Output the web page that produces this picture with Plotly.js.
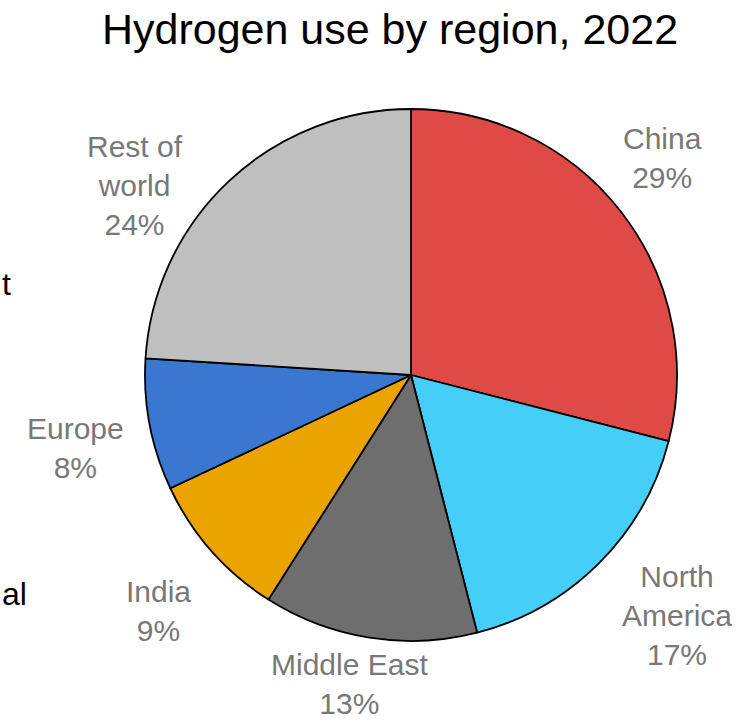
<!DOCTYPE html>
<html>
<head>
<meta charset="utf-8">
<script src="https://cdn.plot.ly/plotly-3.0.1.min.js"></script>
<style>
html,body{margin:0;padding:0;background:#fff;}
#chart{width:754px;height:720px;}
</style>
</head>
<body>
<div id="chart"></div>
<script>
// Data
const regions = ["China", "North America", "Middle East", "India", "Europe", "Rest of world"];
const labelText = ["China", "North<br>America", "Middle East", "India", "Europe", "Rest of<br>world"];
const shares = [29, 17, 13, 9, 8, 24];
const colors = ["#E04A46", "#45CEF7", "#6E6E6E", "#EBA300", "#3A77D1", "#BFBFBF"];

// Label placement (pixel centres in the 754x720 canvas)
const W = 754, H = 720;
const labelPx = [[662, 158], [677, 615], [349, 684], [158, 611], [75, 448], [135, 186]];

const cx = 411, cy = 375, R = 266;

const trace = {
  type: "pie",
  labels: regions,
  values: shares,
  sort: false,
  direction: "clockwise",
  rotation: 0,
  marker: {colors: colors, line: {color: "#000000", width: 1.8}},
  textinfo: "none",
  hoverinfo: "label+percent",
  showlegend: false,
  domain: {x: [(cx - R) / W, (cx + R) / W], y: [(H - cy - R) / H, (H - cy + R) / H]}
};

const labelFont = {family: "Liberation Sans, Arial, sans-serif", size: 30, color: "#787878"};
const annotations = regions.map((r, i) => ({
  text: labelText[i] + "<br>" + shares[i] + "%",
  x: labelPx[i][0] / W,
  y: 1 - labelPx[i][1] / H,
  xref: "paper", yref: "paper",
  xanchor: "center", yanchor: "middle",
  showarrow: false,
  align: "center",
  font: labelFont
}));

// fragments of neighbouring text cut off at the left edge
annotations.push({text: "t", x: 0, y: 1 - 284 / H, xref: "paper", yref: "paper",
  xanchor: "left", yanchor: "middle", showarrow: false,
  font: {family: "Liberation Sans, Arial, sans-serif", size: 32, color: "#000000"}});
annotations.push({text: "al", x: 0, y: 1 - 594 / H, xref: "paper", yref: "paper",
  xanchor: "left", yanchor: "middle", showarrow: false,
  font: {family: "Liberation Sans, Arial, sans-serif", size: 32, color: "#000000"}});

const layout = {
  width: W, height: H,
  margin: {l: 0, r: 0, t: 0, b: 0},
  paper_bgcolor: "#ffffff",
  plot_bgcolor: "#ffffff",
  title: {
    text: "Hydrogen use by region, 2022",
    x: 390 / W, xanchor: "center",
    y: 1 - 29 / H, yanchor: "middle",
    xref: "paper", yref: "container",
    font: {family: "Liberation Sans, Arial, sans-serif", size: 43, color: "#000000"}
  },
  annotations: annotations
};

Plotly.newPlot("chart", [trace], layout, {displayModeBar: false, staticPlot: true});
</script>
</body>
</html>
